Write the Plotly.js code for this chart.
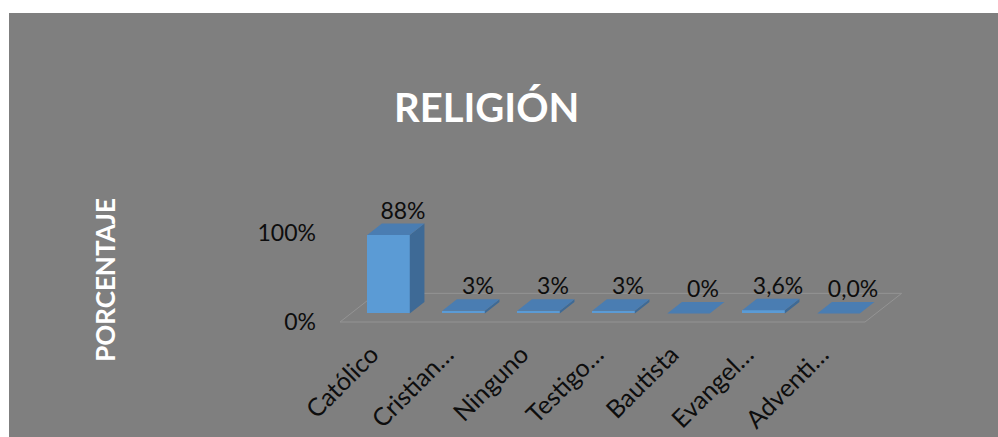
<!DOCTYPE html>
<html>
<head>
<meta charset="utf-8">
<script src="https://cdn.plot.ly/plotly-3.0.1.min.js"></script>
<style>
  html, body { margin: 0; padding: 0; background: #ffffff; width: 998px; height: 437px; overflow: hidden; }
  #chart { position: absolute; left: 9px; top: 13px; width: 989px; height: 424px; }
</style>
</head>
<body>
<div id="chart"></div>
<script>
// ---- data ----
const categories = ["Católico", "Cristian…", "Ninguno", "Testigo…", "Bautista", "Evangel…", "Adventi…"];
const values = [88, 3, 3, 3, 0, 3.6, 0];
const valueLabels = ["88%", "3%", "3%", "3%", "0%", "3,6%", "0,0%"];
const yTickVals = [0, 100];
const yTickText = ["0%", "100%"];

// ---- 3D look (style constants) ----
const DEPTH_X = 0.489;   // full floor depth, x units
const DEPTH_Y = 32.2;    // full floor depth, y units
const FRONT = 0.3, BACK = 0.7; // bar position within the depth
const BAR_W = 0.567;
const LABEL_SHIFT = -0.08;
const FONT = "Lato, 'Open Sans', sans-serif";

const n = categories.length;
const idx = categories.map((_, i) => i);
const base = FRONT * DEPTH_Y;
const bdx = (BACK - FRONT) * DEPTH_X;
const bdy = (BACK - FRONT) * DEPTH_Y;
const xOff = FRONT * DEPTH_X;

// front faces as bars
const frontTrace = {
  type: 'bar',
  x: idx.map(i => i + xOff),
  y: values,
  base: values.map(() => base),
  width: BAR_W,
  marker: { color: '#5b9bd5', line: { width: 0 } },
  hoverinfo: 'skip'
};

// top and side faces as filled polygons
const topX = [], topY = [], sideX = [], sideY = [];
values.forEach((v, i) => {
  const xl = i + xOff - BAR_W / 2, xr = i + xOff + BAR_W / 2;
  const t = base + v;
  topX.push(xl, xr, xr + bdx, xl + bdx, xl, null);
  topY.push(t, t, t + bdy, t + bdy, t, null);
  if (v > 0) {
    sideX.push(xr, xr, xr + bdx, xr + bdx, xr, null);
    sideY.push(base, t, t + bdy, base + bdy, base, null);
  }
});
const sideTrace = {
  type: 'scatter', mode: 'lines', x: sideX, y: sideY, fill: 'toself',
  fillcolor: '#3e6a96', line: { width: 0, color: '#3e6a96' }, hoverinfo: 'skip', connectgaps: false
};
const topTrace = {
  type: 'scatter', mode: 'lines', x: topX, y: topY, fill: 'toself',
  fillcolor: '#4a7db2', line: { width: 0, color: '#4a7db2' }, hoverinfo: 'skip', connectgaps: false
};

const labelTrace = {
  type: 'scatter', mode: 'text',
  x: idx.map(i => i + 0.34),
  y: values.map(v => base + v + bdy + 12),
  text: valueLabels,
  textposition: 'middle center',
  textfont: { family: FONT, size: 23, color: '#0d0d0d' },
  cliponaxis: false,
  hoverinfo: 'skip'
};

// floor outline
const fx0 = -0.5, fx1 = n - 0.5;
const floorPath = `M ${fx0} 0 L ${fx1} 0 L ${fx1 + DEPTH_X} ${DEPTH_Y} L ${fx0 + DEPTH_X} ${DEPTH_Y} Z`;

const layout = {
  width: 989, height: 424,
  paper_bgcolor: '#7f7f7f', plot_bgcolor: 'rgba(0,0,0,0)',
  margin: { l: 308, r: 81, t: 187, b: 77 },
  showlegend: false,
  hovermode: false,
  bargap: 0,
  title: {
    text: 'RELIGIÓN',
    font: { family: FONT, size: 40, color: '#ffffff', weight: 700 },
    x: 0.483, xref: 'container', xanchor: 'center',
    y: 0.777, yref: 'container', yanchor: 'middle'
  },
  xaxis: {
    range: [-0.8067, 7.1933],
    tickvals: idx.map(i => i + LABEL_SHIFT), ticktext: categories,
    tickangle: -45,
    tickfont: { family: FONT, size: 25, color: '#0d0d0d' },
    showgrid: false, zeroline: false, showline: false, ticks: '',
    ticklabelstandoff: -26,
    fixedrange: true
  },
  yaxis: {
    range: [-42.7, 137.08],
    tickvals: yTickVals, ticktext: yTickText,
    tickfont: { family: FONT, size: 23, color: '#0d0d0d' },
    showgrid: false, zeroline: false, showline: false, ticks: '',
    title: {
      text: 'PORCENTAJE',
      font: { family: FONT, size: 26, color: '#ffffff', weight: 700 },
      standoff: 134
    },
    fixedrange: true
  },
  shapes: [{
    type: 'path', xref: 'x', yref: 'y', path: floorPath,
    line: { color: '#949494', width: 1 }, fillcolor: 'rgba(0,0,0,0)', layer: 'below'
  }]
};

Plotly.newPlot('chart', [frontTrace, sideTrace, topTrace, labelTrace], layout, { displayModeBar: false, staticPlot: true });
</script>
</body>
</html>
